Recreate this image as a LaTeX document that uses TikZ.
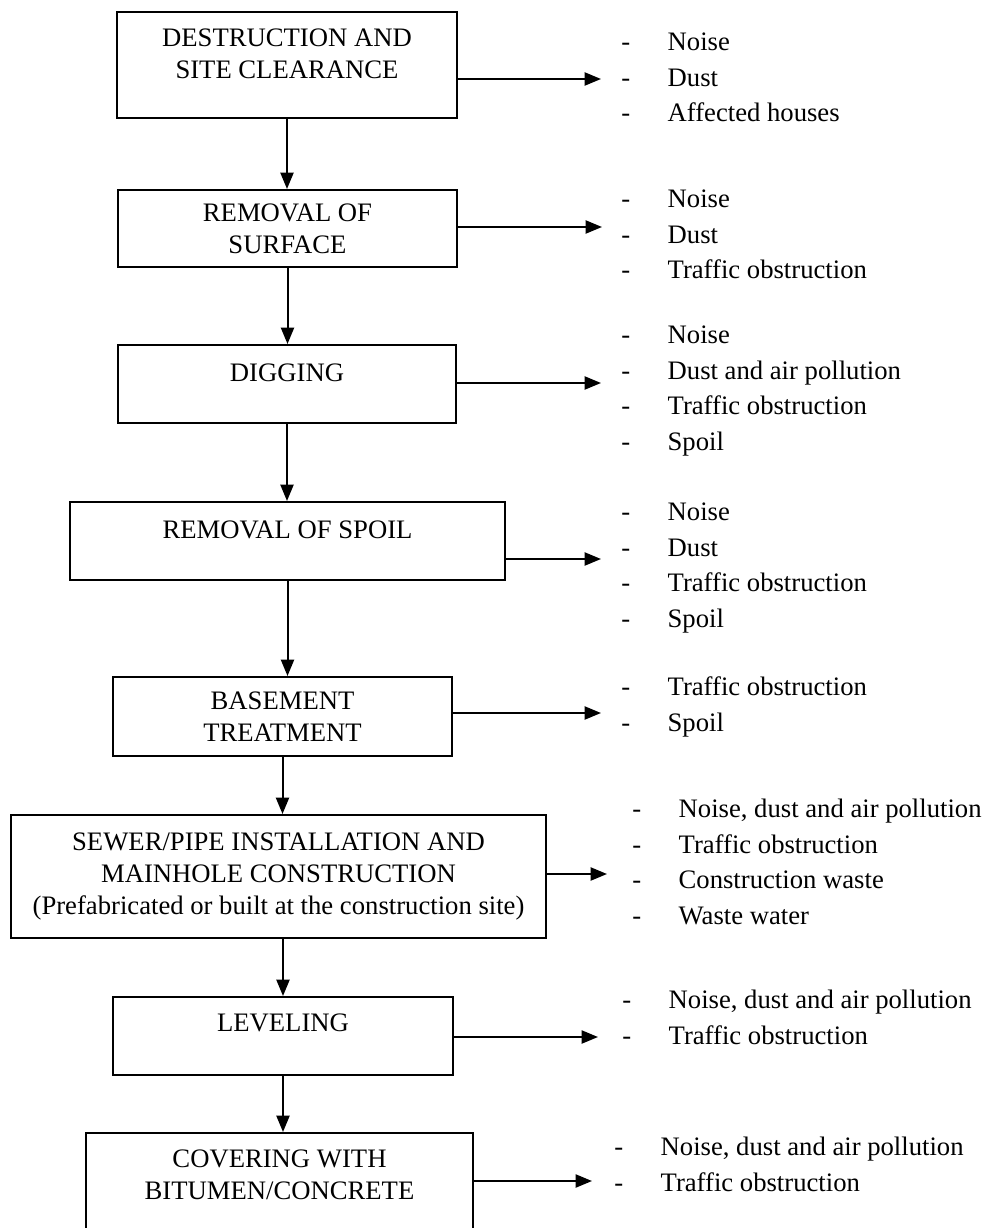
\documentclass[tikz,border=0pt]{standalone}
\usepackage{fontspec}
\setmainfont{Liberation Serif}
\usetikzlibrary{positioning,arrows.meta,calc}
\newcommand{\hazard}[1]{-\hspace{16.8pt}#1}
\tikzset{
  flow/.style={-{Triangle[length=7.4pt,width=5.9pt]},line width=0.9pt},
  box/.style={draw,line width=0.9pt,align=center,inner sep=2pt,
    font=\fontsize{12}{14.4}\selectfont},
  lifted/.style={text depth=#1},
  fxlist/.style={align=left,inner sep=0pt,anchor=base west,
    font=\fontsize{12}{16}\selectfont}
}
\begin{document}
\begin{tikzpicture}[x=0.45pt,y=-0.45pt]
  \useasboundingbox (0,0) rectangle (985,1228);
  % work steps
  \node[box,lifted=9.9pt,minimum width=153pt,minimum height=47.7pt] (clear) at (287,65) {DESTRUCTION AND\\SITE CLEARANCE};
  \node[box,minimum width=152.5pt,minimum height=34.65pt] (surface) at (287.5,228.5) {REMOVAL OF\\SURFACE};
  \node[box,lifted=9.9pt,minimum width=152pt,minimum height=35.1pt] (dig) at (287,384) {DIGGING};
  \node[box,lifted=9.9pt,minimum width=195.75pt,minimum height=35.1pt] (spoil) at (287.5,541) {REMOVAL OF SPOIL};
  \node[box,minimum width=152.5pt,minimum height=35.55pt] (base) at (282.5,716.5) {BASEMENT\\TREATMENT};
  \node[box,minimum width=240.75pt,minimum height=55.35pt] (sewer) at (278.5,876.5) {SEWER/PIPE INSTALLATION AND\\MAINHOLE CONSTRUCTION\\(Prefabricated or built at the construction site)};
  \node[box,lifted=11.7pt,minimum width=153pt,minimum height=35.1pt] (level) at (283,1036) {LEVELING};
  \node[box,lifted=5.85pt,minimum width=174.15pt,minimum height=43.65pt] (cover) at (279.5,1181.5) {COVERING WITH\\BITUMEN/CONCRETE};
  % impacts of each step (placed by the base of the last line)
  \node[fxlist] (clearfx) at (621,121.9) {\hazard{Noise}\\\hazard{Dust}\\\hazard{Affected houses}};
  \node[fxlist] (surfacefx) at (621,278.9) {\hazard{Noise}\\\hazard{Dust}\\\hazard{Traffic obstruction}};
  \node[fxlist] (digfx) at (621,450.5) {\hazard{Noise}\\\hazard{Dust and air pollution}\\\hazard{Traffic obstruction}\\\hazard{Spoil}};
  \node[fxlist] (spoilfx) at (621,627.5) {\hazard{Noise}\\\hazard{Dust}\\\hazard{Traffic obstruction}\\\hazard{Spoil}};
  \node[fxlist] (basefx) at (621,731.4) {\hazard{Traffic obstruction}\\\hazard{Spoil}};
  \node[fxlist] (sewerfx) at (632,924.5) {\hazard{Noise, dust and air pollution}\\\hazard{Traffic obstruction}\\\hazard{Construction waste}\\\hazard{Waste water}};
  \node[fxlist] (levelfx) at (622,1044.4) {\hazard{Noise, dust and air pollution}\\\hazard{Traffic obstruction}};
  \node[fxlist] (coverfx) at (614,1191.4) {\hazard{Noise, dust and air pollution}\\\hazard{Traffic obstruction}};
  % arrow ends on the impact side
  \coordinate (clearhit) at (601,79);
  \coordinate (surfacehit) at (602,227);
  \coordinate (dighit) at (601,383);
  \coordinate (spoilhit) at (601,559);
  \coordinate (basehit) at (601,713);
  \coordinate (sewerhit) at (607,874);
  \coordinate (levelhit) at (598,1037);
  \coordinate (coverhit) at (592,1181);
  \draw[flow] (clear.east |- clearhit) -- (clearhit);
  \draw[flow] (surface.east |- surfacehit) -- (surfacehit);
  \draw[flow] (dig.east |- dighit) -- (dighit);
  \draw[flow] (spoil.east |- spoilhit) -- (spoilhit);
  \draw[flow] (base.east |- basehit) -- (basehit);
  \draw[flow] (sewer.east |- sewerhit) -- (sewerhit);
  \draw[flow] (level.east |- levelhit) -- (levelhit);
  \draw[flow] (cover.east |- coverhit) -- (coverhit);
  % order of the works
  \draw[flow] (clear.south) -- (clear.south |- surface.north);
  \draw[flow] (surface.south) -- (surface.south |- dig.north);
  \draw[flow] (dig.south) -- (dig.south |- spoil.north);
  \draw[flow] (spoil.south) -- (spoil.south |- base.north);
  \draw[flow] (base.south) -- (base.south |- sewer.north);
  \draw[flow] (level.north |- sewer.south) -- (level.north);
  \draw[flow] (level.south) -- (level.south |- cover.north);
\end{tikzpicture}
\end{document}
